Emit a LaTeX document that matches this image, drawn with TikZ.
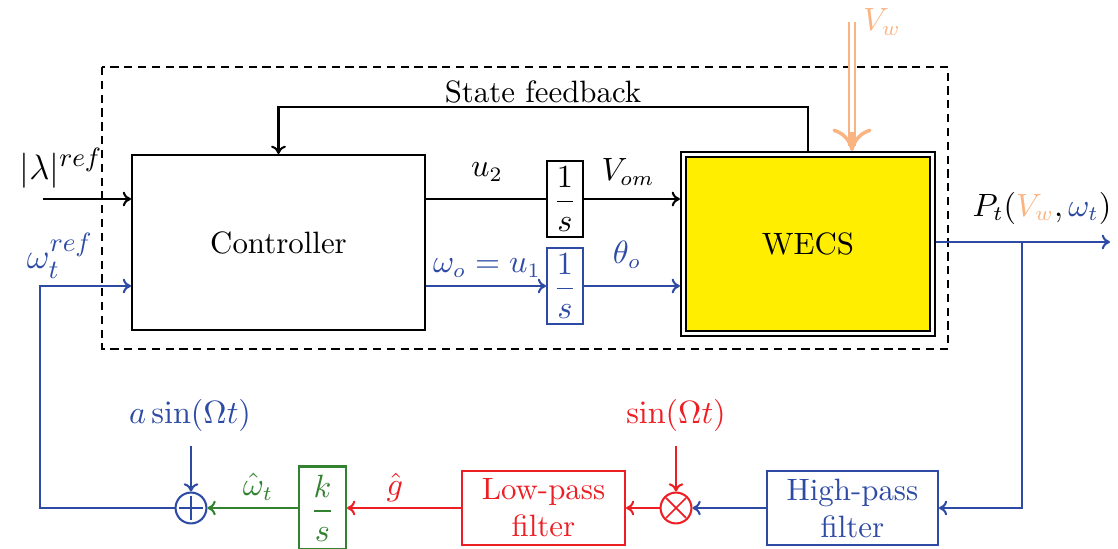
\documentclass[tikz,border=0pt]{standalone}
\usepackage{amsmath}
\usetikzlibrary{arrows.meta,calc}
\definecolor{cblue}{RGB}{45,75,165}
\definecolor{cred}{RGB}{237,30,36}
\definecolor{cgreen}{RGB}{50,130,50}
\definecolor{corange}{RGB}{250,180,130}
\definecolor{cyellow}{RGB}{255,238,0}
\begin{document}
\begin{tikzpicture}[x=0.34pt,y=-0.34pt,line width=0.7pt,>={To[length=2.8pt,width=5pt]},
  font=\fontsize{10.5pt}{12.6pt}\selectfont,
  biglab/.style={font=\fontsize{13pt}{15pt}\selectfont},
  blk/.style={draw,rectangle,inner sep=0pt,align=center},
  intg/.style={blk,minimum width=12.2pt,minimum height=25.6pt},
  junc/.style={draw,circle,inner sep=0pt,minimum size=10.5pt}]
\useasboundingbox (0,0) rectangle (1118,549);
% dashed frame
\draw[dash pattern=on 2.8pt off 1.9pt] (102,67) rectangle (948,349);
% blocks
\node[blk,minimum width=99.6pt,minimum height=59.5pt] (ctrl) at (278.5,242.5) {Controller};
\node[intg] (int1) at (565,199) {$\dfrac{1}{s}$};
\node[intg,draw=cblue,text=cblue] (int2) at (565,286) {$\dfrac{1}{s}$};
\node[blk,minimum width=86.4pt,minimum height=62.6pt] (wecs) at (808,244) {};
\node[blk,fill=cyellow,minimum width=83pt,minimum height=59.2pt] (wecsin) at (808,244) {WECS};
% top feedback
\draw[->] (wecs.north) -- ++(0,-44) -| (ctrl.north);
\node (sf) at (543,92) {State feedback};
% wind input
\coordinate (vwtop) at (852,22);
\coordinate (vwend) at (852,151);
\draw[corange,double=white,double distance=1.2pt,line width=0.65pt] (vwtop) -- (852,146);
\draw[corange,line width=1.2pt,-{To[scale width=1.5,scale length=1.8]}] (852,132) -- (vwend);
\node[text=corange] (vwl) at (882,22) {$V_w$};
% lambda ref
\coordinate (lamin) at (43,199);
\draw[->] (lamin) -- (lamin -| ctrl.west);
\node[biglab] (laml) at (61,168) {$|\lambda|^{ref}$};
% top path
\draw (ctrl.east |- int1) -- (int1.west);
\draw[->] (int1.east) -- (int1.east -| wecs.west);
\node (u2l) at (487,172) {$u_2$};
\node (voml) at (628,172) {$V_{om}$};
% blue path
\draw[cblue,->] (ctrl.east |- int2) -- (int2.west);
\draw[cblue,->] (int2.east) -- (int2.east -| wecs.west);
\node[text=cblue] (wol) at (487,268) {$\omega_o = u_1$};
\node[text=cblue] (thl) at (627,255) {$\theta_o$};
% output
\coordinate (out) at (1110,242);
\coordinate (br) at (1022,242);
\draw[cblue,->] (wecs.east |- out) -- (out);
\node (ptl) at (1042,208) {$P_t(\textcolor{corange}{V_w},\textcolor{cblue}{\omega_t})$};
% bottom chain
\node[blk,draw=cblue,text=cblue,minimum width=58.1pt,minimum height=25.2pt] (hpf) at (852.5,508) {High-pass\\filter};
\node[junc,draw=cred] (mul) at (676,508) {};
\draw[cred,line width=0.6pt] ($(mul)+(-10,-10)$) -- ($(mul)+(10,10)$) ($(mul)+(-10,10)$) -- ($(mul)+(10,-10)$);
\node[blk,draw=cred,text=cred,minimum width=55.4pt,minimum height=25.2pt] (lpf) at (543.5,508) {Low-pass\\filter};
\node[blk,draw=cgreen,text=cgreen,minimum width=16pt,minimum height=28.2pt] (ks) at (322.5,508) {$\dfrac{k}{s}$};
\node[junc,draw=cblue] (sum) at (191,508) {};
\draw[cblue,line width=0.6pt] ($(sum)+(-12,0)$) -- ($(sum)+(12,0)$) ($(sum)+(0,-12)$) -- ($(sum)+(0,12)$);
\draw[cblue,->] (br) |- (hpf.east);
\draw[cblue,->] (hpf.west) -- (mul.east);
\draw[cred,->] (mul.west) -- (lpf.east);
\draw[cred,->] (lpf.west) -- (ks.east);
\draw[cgreen,->] (ks.west) -- (sum.east);
\node[text=cred] (gl) at (395,487) {$\hat g$};
\node[text=cgreen] (whl) at (258,487) {$\hat\omega_t$};
\node[text=cred] (sinl) at (676,415) {$\sin(\Omega t)$};
\coordinate (sins) at (676,446);
\draw[cred,->] (sins) -- (mul.north);
\node[text=cblue] (asinl) at (190,415) {$a\sin(\Omega t)$};
\coordinate (asins) at (191,446);
\draw[cblue,->] (asins) -- (sum.north);
% omega ref feedback
\coordinate (wref) at (40,286);
\draw[cblue,->] (sum.west) -| (wref) -- (wref -| ctrl.west);
\node[biglab,text=cblue] (wrefl) at (60,256) {$\omega_t^{ref}$};
\end{tikzpicture}
\end{document}
